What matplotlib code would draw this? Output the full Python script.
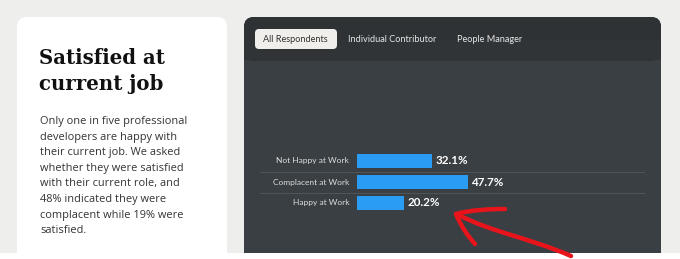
import matplotlib
matplotlib.use("Agg")
import matplotlib.pyplot as plt
from matplotlib.patches import FancyBboxPatch, Rectangle
from matplotlib.path import Path
from matplotlib.patches import PathPatch

categories = ["Not Happy at Work", "Complacent at Work", "Happy at Work"]
values = [32.1, 47.7, 20.2]
value_labels = ["32.1%", "47.7%", "20.2%"]
tabs = ["All Respondents", "Individual Contributor", "People Manager"]
title_lines = ["Satisfied at", "current job"]
body_lines = [
    "Only one in five professional",
    "developers are happy with",
    "their current job. We asked",
    "whether they were satisfied",
    "with their current role, and",
    "48% indicated they were",
    "complacent while 19% were",
    "satisfied.",
]

W, H = 680, 259
fig = plt.figure(figsize=(W / 100, H / 100), dpi=100)
fig.patch.set_facecolor("white")

bg = fig.add_axes([0, 0, 1, 1])
bg.set_xlim(0, W)
bg.set_ylim(H, 0)
bg.axis("off")

# page background
bg.add_patch(Rectangle((0, 0), W, 253, facecolor="#eeeeec", edgecolor="none"))
# left white card
bg.add_patch(FancyBboxPatch((17, 17), 210, 250, boxstyle="round,pad=0,rounding_size=10",
                            facecolor="white", edgecolor="none"))
# dark card
bg.add_patch(FancyBboxPatch((244, 17), 417, 250, boxstyle="round,pad=0,rounding_size=10",
                            facecolor="#3a3f43", edgecolor="none"))
bg.add_patch(FancyBboxPatch((244, 17), 417, 44, boxstyle="round,pad=0,rounding_size=10",
                            facecolor="#2e3235", edgecolor="none"))
bg.add_patch(Rectangle((244, 40), 417, 20, facecolor="#303437", edgecolor="none"))
bg.add_patch(Rectangle((0, 253), W, 6, facecolor="white", edgecolor="none"))

# tabs
bg.add_patch(FancyBboxPatch((255, 29), 82, 20, boxstyle="round,pad=0,rounding_size=4",
                            facecolor="#f1efec", edgecolor="none"))
tab_x = [295.5, 392.5, 489.5]
for i, (t, x) in enumerate(zip(tabs, tab_x)):
    bg.text(x, 39.5, t, ha="center", va="center", fontsize=6.6,
            family="Lato", color="#333333" if i == 0 else "#e6e6e6")

# title and body text
for i, line in enumerate(title_lines):
    bg.text(39, 63.5 + i * 27, line, ha="left", va="baseline", fontsize=14.2,
            family="DejaVu Serif", fontweight="bold", color="#111111")
for i, line in enumerate(body_lines):
    bg.text(40, 124 + i * 15.6, line, ha="left", va="baseline", fontsize=7.9,
            family="Open Sans", color="#333333")

# bar chart axes
x0_px, px_per_unit = 357, 2.333
ax_left, ax_right = x0_px, 644
top_px, bot_px = 150.5, 213.5
ax = fig.add_axes([ax_left / W, 1 - bot_px / H, (ax_right - ax_left) / W, (bot_px - top_px) / H])
ax.patch.set_alpha(0)
ax.set_xlim(0, (ax_right - ax_left) / px_per_unit)
ax.set_ylim(2.5, -0.5)
ax.axis("off")

ypos = list(range(len(categories)))
ax.barh(ypos, values, height=0.66, color="#2b9cf3", edgecolor="none")
for y, v, lab, cat in zip(ypos, values, value_labels, categories):
    ax.text(v + 1.5, y, lab, ha="left", va="center", fontsize=8.4, fontweight="bold",
            family="Lato", color="white")
    ax.text(-3.4, y, cat, ha="right", va="center", fontsize=6.0,
            family="Lato", color="#dcdcdc")
sep_left = -(x0_px - 260) / px_per_unit
for y in [0.5, 1.5]:
    ax.plot([sep_left, (ax_right - ax_left) / px_per_unit], [y, y], color="#50555a",
            lw=0.7, clip_on=False)

# red hand-drawn arrow annotation
red = "#e8141c"
shaft = Path([(571, 256), (530, 238), (490, 232), (457, 214)],
             [Path.MOVETO, Path.CURVE4, Path.CURVE4, Path.CURVE4])
bg.add_patch(PathPatch(shaft, facecolor="none", edgecolor=red, lw=3.2, capstyle="round"))
arm1 = Path([(456, 214), (470, 210), (490, 209), (505, 209)],
            [Path.MOVETO, Path.CURVE4, Path.CURVE4, Path.CURVE4])
bg.add_patch(PathPatch(arm1, facecolor="none", edgecolor=red, lw=3.2, capstyle="round"))
arm2 = Path([(456, 214), (462, 228), (468, 236), (475, 244)],
            [Path.MOVETO, Path.CURVE4, Path.CURVE4, Path.CURVE4])
bg.add_patch(PathPatch(arm2, facecolor="none", edgecolor=red, lw=3.2, capstyle="round"))

fig.savefig("out.png", dpi=100, facecolor=fig.get_facecolor())
